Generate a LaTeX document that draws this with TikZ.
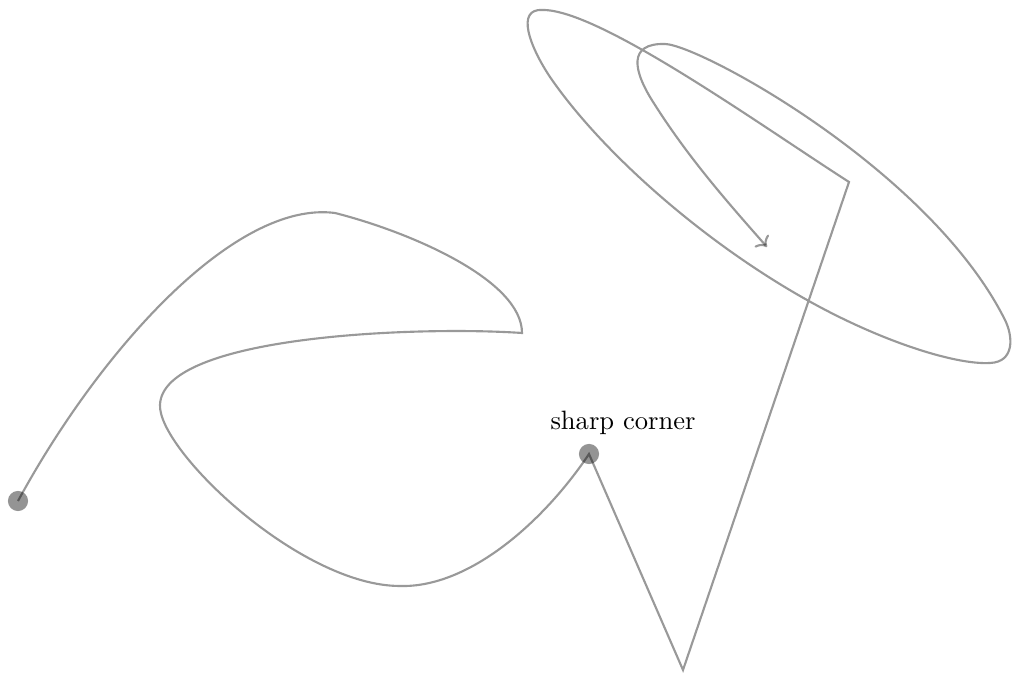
\documentclass[tikz,border=0pt]{standalone}
\usetikzlibrary{arrows.meta, positioning}

\begin{document}
\begin{tikzpicture}[x=0.3765pt, y=-0.3765pt, thick,
    dot/.style={circle, fill=black, fill opacity=0.42, inner sep=0pt, minimum size=7.6pt},
    trail/.style={draw=black, draw opacity=0.4}]
    \useasboundingbox (0,0) rectangle (1012,673);

    \node[dot] (start) at (18,501) {};
    \node[dot] (corner) at (589,454) {};
    \node (label) at (623,423) {sharp corner};
    \coordinate (bottom) at (683,670);
    \coordinate (kink) at (849,182);
    \coordinate (tip) at (767,247);

    % the long path, smooth pieces with a few sharp turns
    \draw[trail, ->] (start.center) .. controls (100,350) and (235,200) .. (335,213)
        .. controls (410,232) and (522,280) .. (522,333)
        .. controls (420,326) and (162,335) .. (160,405)
        .. controls (158,450) and (300,586) .. (400,586)
        .. controls (470,588) and (545,520) .. (corner.center)
        -- (bottom) -- (kink)
        .. controls (760,125) and (600,10) .. (543,10)
        .. controls (515,8) and (530,47) .. (550,77)
        .. controls (600,150) and (700,240) .. (807,300)
        .. controls (880,341) and (955,365) .. (990,363)
        .. controls (1015,362) and (1013,336) .. (1005,320)
        .. controls (930,170) and (700,45) .. (665,44)
        .. controls (628,43) and (632,70) .. (655,105)
        .. controls (690,160) and (730,205) .. (tip);
\end{tikzpicture}
\end{document}
